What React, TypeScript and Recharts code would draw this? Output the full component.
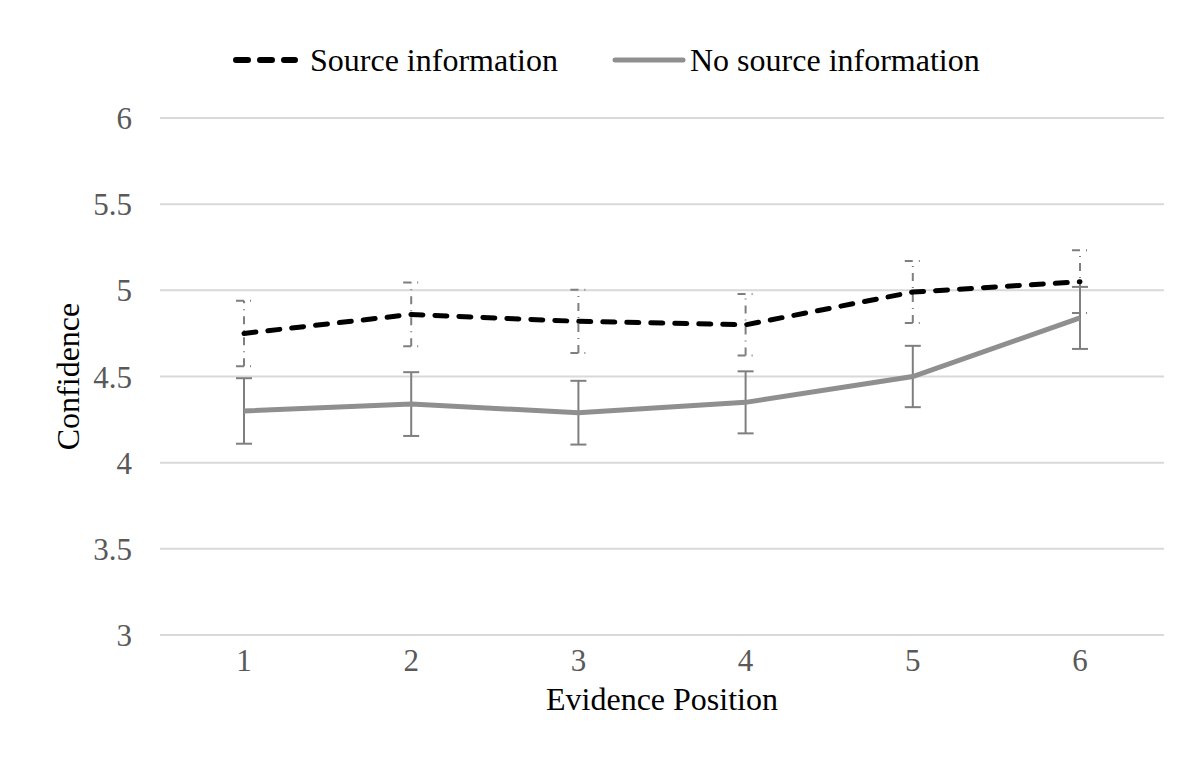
import React from 'react';
import { CartesianGrid, ErrorBar, Legend, Line, LineChart, XAxis, YAxis } from 'recharts';

const positions = [1, 2, 3, 4, 5, 6];
const sourceInfo = [4.75, 4.86, 4.82, 4.8, 4.99, 5.05];
const noSourceInfo = [4.3, 4.34, 4.29, 4.35, 4.5, 4.84];
const sourceErr = [0.19, 0.185, 0.183, 0.178, 0.18, 0.182];
const noSourceErr = [0.19, 0.185, 0.185, 0.18, 0.178, 0.18];
const yTicks = [3, 3.5, 4, 4.5, 5, 5.5, 6];

const data = positions.map((p, i) => ({
  position: p,
  source: sourceInfo[i],
  sourceErr: sourceErr[i],
  noSource: noSourceInfo[i],
  noSourceErr: noSourceErr[i],
}));

const FONT = '"Liberation Serif", "Times New Roman", serif';

const LegendBox = () => (
  <div style={{ position: 'relative', height: 44, fontFamily: FONT, fontSize: 32, color: '#000' }}>
    <svg width={66} height={10} style={{ position: 'absolute', left: 225, top: 17 }}>
      <line x1={3} y1={5} x2={62} y2={5} stroke="#000" strokeWidth={6} strokeDasharray="12 12" strokeLinecap="round" />
    </svg>
    <span style={{ position: 'absolute', left: 302, top: 2, lineHeight: '40px', whiteSpace: 'nowrap' }}>Source information</span>
    <svg width={74} height={10} style={{ position: 'absolute', left: 604, top: 17 }}>
      <line x1={3} y1={5} x2={71} y2={5} stroke="#8f8f8f" strokeWidth={5} strokeLinecap="round" />
    </svg>
    <span style={{ position: 'absolute', left: 682, top: 2, lineHeight: '40px', whiteSpace: 'nowrap' }}>No source information</span>
  </div>
);

const XTick = (props: any) => {
  const { x, y, payload } = props;
  return (
    <text x={x} y={y} dy="0.71em" textAnchor="middle" fontFamily={FONT} fontSize={31} fill="#595959">
      {payload.value}
    </text>
  );
};

const YTick = (props: any) => {
  const { x, y, payload } = props;
  return (
    <text x={x} y={y} dy="0.355em" textAnchor="end" fontFamily={FONT} fontSize={31} fill="#595959">
      {payload.value}
    </text>
  );
};

const YTitle = (props: any) => {
  const vb = props.viewBox || { x: 0, y: 110, width: 152, height: 517 };
  const cx = 60;
  const cy = vb.y + vb.height / 2;
  return (
    <text
      x={cx}
      y={cy}
      transform={`rotate(-90 ${cx} ${cy})`}
      textAnchor="middle"
      dominantBaseline="central"
      fontFamily={FONT}
      fontSize={32}
      fill="#000"
    >
      Confidence
    </text>
  );
};

export default function App() {
  return (
    <div
      style={{
        marginLeft: -2,
        marginTop: -3,
        width: 1190,
        height: 771,
        borderTop: '2px solid #d6d6d6',
        borderLeft: '2px solid #d6d6d6',
        boxSizing: 'border-box',
        paddingTop: 1,
        fontFamily: FONT,
      }}
    >
      <LineChart width={1188} height={768} data={data} margin={{ top: 66, right: 32, bottom: 41, left: 0 }}>
        <CartesianGrid vertical={false} stroke="#d9d9d9" strokeWidth={2} />
        <XAxis
          dataKey="position"
          type="category"
          height={100}
          padding={{ left: 84, right: 84 }}
          axisLine={false}
          tickLine={false}
          tickSize={0}
          tickMargin={14}
          tick={<XTick />}
          label={{ value: 'Evidence Position', position: 'insideTop', offset: 52, fontFamily: FONT, fontSize: 32, fill: '#000' }}
        />
        <YAxis
          domain={[3, 6]}
          ticks={yTicks}
          width={152}
          axisLine={false}
          tickLine={false}
          tickSize={0}
          tickMargin={28}
          tick={<YTick />}
          label={<YTitle />}
        />
        <Legend
          verticalAlign="top"
          content={() => <LegendBox />}
          wrapperStyle={{ top: 30, left: 0, width: 1188, height: 44 }}
        />
        <Line
          dataKey="noSource"
          name="No source information"
          stroke="#8f8f8f"
          strokeWidth={5}
          dot={false}
          activeDot={false}
          isAnimationActive={false}
        >
          <ErrorBar dataKey="noSourceErr" direction="y" width={8} stroke="#7f7f7f" strokeWidth={2} isAnimationActive={false} />
        </Line>
        <Line
          dataKey="source"
          name="Source information"
          stroke="#000"
          strokeWidth={5}
          strokeDasharray="12 12"
          strokeLinecap="round"
          dot={false}
          activeDot={false}
          isAnimationActive={false}
        >
          <ErrorBar
            dataKey="sourceErr"
            direction="y"
            width={8}
            stroke="#7f7f7f"
            strokeWidth={2}
            strokeDasharray="8 6 1 6"
            isAnimationActive={false}
          />
        </Line>
      </LineChart>
    </div>
  );
}
